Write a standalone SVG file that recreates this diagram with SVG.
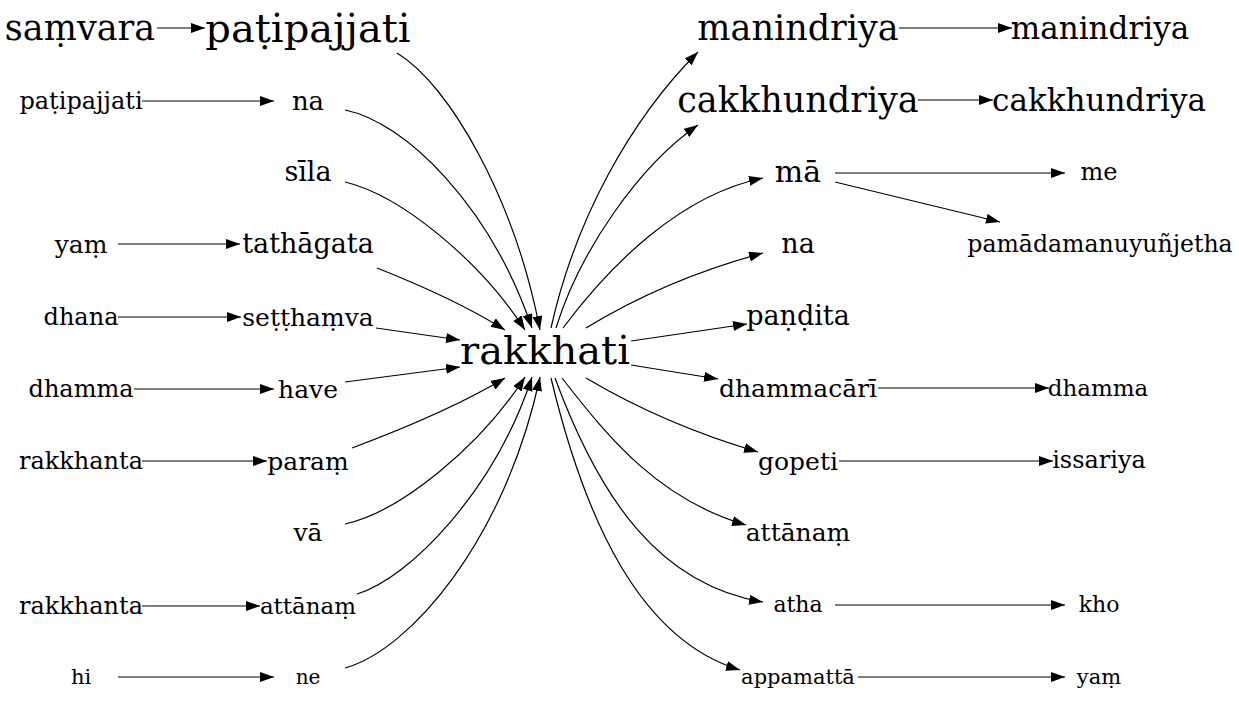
<svg xmlns="http://www.w3.org/2000/svg" width="1239" height="707" viewBox="0 0 1239 707">
<style>
text{font-family:"DejaVu Serif","Liberation Serif",serif;fill:#000;text-anchor:middle}
.e path{fill:none;stroke:#000;stroke-width:1.2;marker-end:url(#ah)}
</style>
<defs>
<marker id="ah" markerUnits="userSpaceOnUse" markerWidth="15" markerHeight="11" refX="14" refY="5" orient="auto"><path d="M0,0L14,5L0,10z" fill="#000"/></marker>
</defs>
<rect width="1239" height="707" fill="#fff"/>
<g class="e" id="edges">
<path d="M157,28H205"/>
<path d="M142,101H274"/>
<path d="M118,244H240"/>
<path d="M118,317H241"/>
<path d="M134,389H274"/>
<path d="M142,461H267"/>
<path d="M142,606H260"/>
<path d="M118,677H274"/>
<path d="M397,53C450,85 515,200 540,330"/>
<path d="M345,110C405,122 490,205 532,328"/>
<path d="M345,182C400,195 480,260 525,330"/>
<path d="M377,268C420,285 470,308 505,330"/>
<path d="M376,328L460,340"/>
<path d="M345,382L460,367"/>
<path d="M352,448C400,430 460,405 505,378"/>
<path d="M345,524C400,512 480,447 525,377"/>
<path d="M357,594C410,578 495,490 532,377"/>
<path d="M345,668C410,650 505,540 540,377"/>
<path d="M551,328C575,220 630,120 698,52"/>
<path d="M556,328C580,250 640,165 698,125"/>
<path d="M563,328C610,265 680,195 763,178"/>
<path d="M586,328C640,295 700,270 763,253"/>
<path d="M631,341L747,324"/>
<path d="M631,365L718,379"/>
<path d="M586,378C640,410 700,435 758,452"/>
<path d="M562,378C610,440 660,500 746,525"/>
<path d="M555,378C600,500 660,585 763,602"/>
<path d="M551,378C585,520 640,640 740,670"/>
<path d="M899,28H1012"/>
<path d="M918,100H993"/>
<path d="M835,173H1065"/>
<path d="M835,182L1000,222"/>
<path d="M878,388H1049"/>
<path d="M839,461H1053"/>
<path d="M835,605H1065"/>
<path d="M858,677H1065"/>
</g>
<g id="n_samvara"><text x="80" y="40" font-size="35">saṃvara</text></g>
<g id="n_patipajjati0"><text x="81" y="109" font-size="24">paṭipajjati</text></g>
<g id="n_yam0"><text x="81" y="253" font-size="25">yaṃ</text></g>
<g id="n_dhana"><text x="81" y="325" font-size="24">dhana</text></g>
<g id="n_dhamma0"><text x="81" y="397" font-size="24">dhamma</text></g>
<g id="n_rakkhanta1"><text x="81" y="469" font-size="24">rakkhanta</text></g>
<g id="n_rakkhanta2"><text x="81" y="614" font-size="24">rakkhanta</text></g>
<g id="n_hi"><text x="81" y="684" font-size="21">hi</text></g>
<g id="n_patipajjati"><text x="308" y="42" font-size="40">paṭipajjati</text></g>
<g id="n_na0"><text x="308" y="110" font-size="26">na</text></g>
<g id="n_sila"><text x="308" y="181" font-size="27">sīla</text></g>
<g id="n_tathagata"><text x="308" y="253" font-size="27">tathāgata</text></g>
<g id="n_setthamva"><text x="308" y="326" font-size="25">seṭṭhaṃva</text></g>
<g id="n_have"><text x="308" y="398" font-size="25">have</text></g>
<g id="n_param"><text x="308" y="470" font-size="25">paraṃ</text></g>
<g id="n_va"><text x="308" y="541" font-size="25">vā</text></g>
<g id="n_attanam0"><text x="308" y="614" font-size="23">attānaṃ</text></g>
<g id="n_ne"><text x="308" y="684" font-size="20">ne</text></g>
<g id="n_rakkhati"><text x="545" y="364" font-size="40">rakkhati</text></g>
<g id="n_manindriya"><text x="798" y="40" font-size="35">manindriya</text></g>
<g id="n_cakkhundriya"><text x="798" y="112" font-size="35">cakkhundriya</text></g>
<g id="n_ma"><text x="798" y="182" font-size="30">mā</text></g>
<g id="n_na1"><text x="798" y="253" font-size="27">na</text></g>
<g id="n_pandita"><text x="798" y="325" font-size="27">paṇḍita</text></g>
<g id="n_dhammacari"><text x="798" y="397" font-size="25">dhammacārī</text></g>
<g id="n_gopeti"><text x="798" y="470" font-size="25">gopeti</text></g>
<g id="n_attanam1"><text x="798" y="541" font-size="25">attānaṃ</text></g>
<g id="n_atha"><text x="798" y="612" font-size="22">atha</text></g>
<g id="n_appamatta"><text x="798" y="684" font-size="21">appamattā</text></g>
<g id="n_manindriya2"><text x="1100" y="39" font-size="31">manindriya</text></g>
<g id="n_cakkhundriya2"><text x="1099" y="111" font-size="31">cakkhundriya</text></g>
<g id="n_me"><text x="1099" y="180" font-size="24">me</text></g>
<g id="n_pamada"><text x="1100" y="252" font-size="23.6">pamādamanuyuñjetha</text></g>
<g id="n_dhamma1"><text x="1098" y="396" font-size="23">dhamma</text></g>
<g id="n_issariya"><text x="1099" y="468" font-size="24">issariya</text></g>
<g id="n_kho"><text x="1099" y="612" font-size="22">kho</text></g>
<g id="n_yam1"><text x="1099" y="684" font-size="21">yaṃ</text></g>
</svg>
